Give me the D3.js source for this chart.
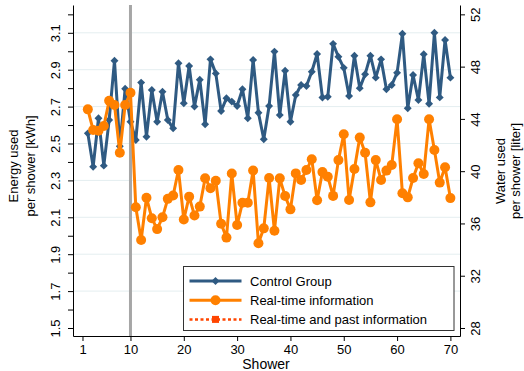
<!DOCTYPE html>
<html>
<head>
<meta charset="utf-8">
<script src="https://cdn.jsdelivr.net/npm/d3@7"></script>
<style>
  body { margin: 0; background: #fff; }
  svg { display: block; font-family: "Liberation Sans", Arial, sans-serif; }
</style>
</head>
<body>
<svg id="chart" width="524" height="371"></svg>
<script>
// showers (x), first observation plotted is shower 2
const showers = [2,3,4,5,6,7,8,9,10,11,12,13,14,15,16,17,18,19,20,21,22,23,24,25,26,27,28,29,30,
  31,32,33,34,35,36,37,38,39,40,41,42,43,44,45,46,47,48,49,50,51,52,53,54,55,56,57,58,59,60,
  61,62,63,64,65,66,67,68,69,70];

// energy per shower [kWh]
const controlGroup = [2.555,2.374,2.637,2.38,2.627,2.949,2.485,2.797,2.618,2.519,2.83,2.537,2.79,2.618,
  2.781,2.627,2.582,2.935,2.718,2.92,2.70,2.846,2.604,2.956,2.88,2.676,2.745,2.727,2.703,2.794,
  2.637,2.953,2.667,2.523,2.703,2.998,2.654,2.894,2.618,2.763,2.817,2.812,2.889,2.985,2.749,
  2.753,3.04,2.97,2.91,2.757,2.976,2.80,2.875,2.976,2.857,2.956,2.794,2.817,2.883,3.095,2.691,
  2.871,2.736,2.984,2.715,3.10,2.75,3.061,2.857];

const realTime = [2.685,2.573,2.569,2.595,2.732,2.709,2.45,2.709,2.775,2.154,1.977,2.206,2.095,2.036,
  2.10,2.20,2.218,2.356,2.088,2.212,2.11,2.158,2.312,2.258,2.298,2.065,1.99,2.337,2.058,2.179,
  2.179,2.354,1.959,2.04,2.313,2.027,2.311,2.215,2.143,2.338,2.302,2.356,2.415,2.192,2.345,
  2.32,2.216,2.41,2.55,2.194,2.362,2.532,2.45,2.181,2.41,2.302,2.353,2.383,2.631,2.23,2.208,
  2.313,2.393,2.335,2.631,2.465,2.288,2.371,2.204];

const xTicks = [1,10,20,30,40,50,60,70];
const kwhLabels = [1.5,1.7,1.9,2.1,2.3,2.5,2.7,2.9,3.1];
const kwhMinor = [1.5,1.6,1.7,1.8,1.9,2.0,2.1,2.2,2.3,2.4,2.5,2.6,2.7,2.8,2.9,3.0,3.1,3.2];
const literTicks = [28,32,36,40,44,48,52];
const treatmentStart = 10;

const legendNames = ["Control Group", "Real-time information", "Real-time and past information"];

const width = 524, height = 371;
const margin = {top: 5, right: 64, bottom: 35, left: 73};
const blue = "#2f5a82", orange = "#ff8000", red = "#ff4500";

const svg = d3.select("#chart");

const x = d3.scaleLinear().domain([-0.78, 71.8]).range([margin.left, width - margin.right]);
const y = d3.scaleLinear().domain([1.4566, 3.2507]).range([height - margin.bottom, margin.top]);
// 1.5 kWh <-> 28 l, 3.2 kWh <-> 52 l
const toLiter = v => 28 + (v - 1.5) * 24 / 1.7;
const yR = d3.scaleLinear().domain(y.domain().map(toLiter)).range(y.range());

// grid
svg.append("g")
  .selectAll("line")
  .data(kwhLabels.slice(1))
  .join("line")
  .attr("x1", margin.left).attr("x2", width - margin.right)
  .attr("y1", d => y(d)).attr("y2", d => y(d))
  .attr("stroke", "#e4eef0").attr("stroke-width", 1);

// vertical line at treatment start
svg.append("line")
  .attr("x1", x(treatmentStart)).attr("x2", x(treatmentStart))
  .attr("y1", margin.top).attr("y2", height - margin.bottom)
  .attr("stroke", "#a6a6a6").attr("stroke-width", 3);

// axes
const axisStyle = g => {
  g.selectAll("text").attr("font-size", 13).attr("fill", "#000");
  g.selectAll("line, path").attr("stroke", "#000");
};

const left = svg.append("g")
  .attr("transform", `translate(${margin.left},0)`)
  .call(d3.axisLeft(y).tickValues(kwhMinor).tickSize(5).tickSizeOuter(0)
    .tickFormat(d => kwhLabels.some(l => Math.abs(l - d) < 1e-6) ? d3.format(".1f")(d) : ""))
  .call(axisStyle);
left.selectAll("text")
  .attr("x", 0).attr("dy", "0.35em")
  .attr("text-anchor", "middle")
  .attr("transform", "translate(-18,0) rotate(-90)");

const right = svg.append("g")
  .attr("transform", `translate(${width - margin.right},0)`)
  .call(d3.axisRight(yR).tickValues(literTicks).tickSize(5).tickSizeOuter(0))
  .call(axisStyle);
right.selectAll("text")
  .attr("x", 0).attr("dy", "0.35em")
  .attr("text-anchor", "middle")
  .attr("transform", "translate(15,0) rotate(-90)");

svg.append("g")
  .attr("transform", `translate(0,${height - margin.bottom})`)
  .call(d3.axisBottom(x).tickValues(xTicks).tickSize(5).tickPadding(4).tickSizeOuter(0))
  .call(axisStyle);

// axis titles
const ttl = (lines, cx, cy, gap) => {
  const t = svg.append("text")
    .attr("transform", `translate(${cx},${cy}) rotate(-90)`)
    .attr("text-anchor", "middle").attr("font-size", 13);
  lines.forEach((s, i) => t.append("tspan").attr("x", 0).attr("y", i * gap).text(s));
};
ttl(["Energy used", "per shower [kWh]"], 18, 166, 17);
ttl(["Water used", "per shower [liter]"], 505, 171, 14.5);

svg.append("text")
  .attr("x", 266).attr("y", 369)
  .attr("text-anchor", "middle").attr("font-size", 14)
  .text("Shower");

// series
const line = d3.line().x((d, i) => x(showers[i])).y(d => y(d));
const diamond = d3.symbol().type(d3.symbolDiamond2).size(40);

svg.append("path").datum(controlGroup)
  .attr("d", line).attr("fill", "none")
  .attr("stroke", blue).attr("stroke-width", 3).attr("stroke-linejoin", "round");
svg.append("g").selectAll("path")
  .data(controlGroup)
  .join("path")
  .attr("transform", (d, i) => `translate(${x(showers[i])},${y(d)})`)
  .attr("d", diamond).attr("fill", blue);

svg.append("path").datum(realTime)
  .attr("d", line).attr("fill", "none")
  .attr("stroke", orange).attr("stroke-width", 3).attr("stroke-linejoin", "round");
svg.append("g").selectAll("circle")
  .data(realTime)
  .join("circle")
  .attr("cx", (d, i) => x(showers[i])).attr("cy", d => y(d))
  .attr("r", 5).attr("fill", orange);

// legend
const lg = svg.append("g").attr("transform", "translate(183.5,266.5)");
lg.append("rect").attr("width", 270.5).attr("height", 64)
  .attr("fill", "#fff").attr("stroke", "#333").attr("stroke-width", 1);
const rows = lg.selectAll("g.row").data(legendNames).join("g")
  .attr("class", "row")
  .attr("transform", (d, i) => `translate(0,${14.5 + i * 19.2})`);
rows.append("line")
  .attr("x1", 6).attr("x2", 58)
  .attr("stroke", (d, i) => [blue, orange, red][i])
  .attr("stroke-width", (d, i) => i === 2 ? 2.5 : 3)
  .attr("stroke-dasharray", (d, i) => i === 2 ? "3,2.5" : null);
rows.filter((d, i) => i === 0).append("path")
  .attr("transform", "translate(32,0)").attr("d", diamond).attr("fill", blue);
rows.filter((d, i) => i === 1).append("circle")
  .attr("cx", 32).attr("r", 5).attr("fill", orange);
rows.filter((d, i) => i === 2).append("rect")
  .attr("x", 28.5).attr("y", -3.5).attr("width", 7).attr("height", 7).attr("fill", red);
rows.append("text")
  .attr("x", 66.5).attr("dy", "0.35em").attr("font-size", 13)
  .text(d => d);
</script>
</body>
</html>
